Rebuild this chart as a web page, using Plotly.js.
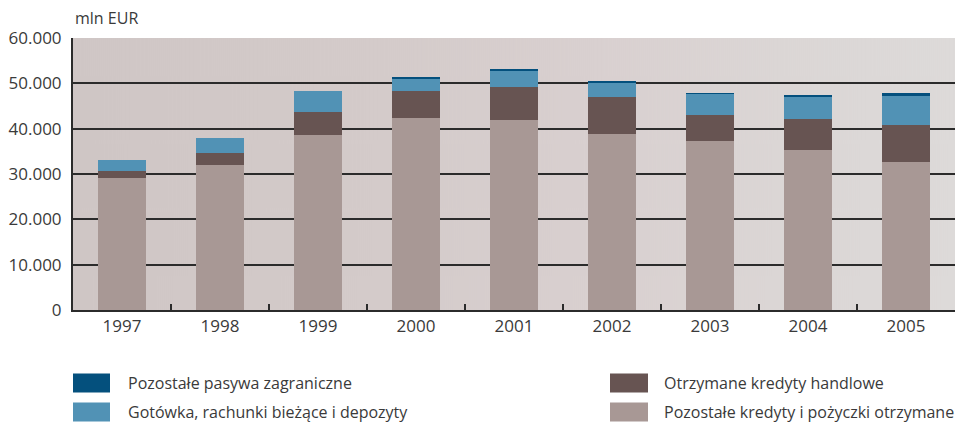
<!DOCTYPE html>
<html><head><meta charset="utf-8">
<script src="https://cdn.plot.ly/plotly-3.0.1.min.js"></script>
<style>html,body{margin:0;padding:0;background:#fff}#chart{width:955px;height:425px}</style>
</head><body><div id="chart"></div>
<script>
// ---- data (mln EUR) ----
const years = ['1997','1998','1999','2000','2001','2002','2003','2004','2005'];
const pozostaleKredyty = [29200, 31900, 38700, 42400, 42000, 38900, 37300, 35300, 32700];
const kredytyHandlowe  = [1500, 2800, 5000, 6000, 7200, 8100, 5800, 6900, 8200];
const gotowka          = [2400, 3200, 4700, 2600, 3600, 3100, 4600, 4800, 6400];
const pozostalePasywa  = [0, 100, 0, 500, 400, 500, 200, 500, 600];
const seriesNames = ['Pozostałe kredyty i pożyczki otrzymane','Otrzymane kredyty handlowe','Gotówka, rachunki bieżące i depozyty','Pozostałe pasywa zagraniczne'];
const yTicks = [0, 10000, 20000, 30000, 40000, 50000, 60000];
const unitLabel = 'mln EUR';

const colors = ['#a89895', '#675452', '#5192b5', '#04507d'];
const FONT = 'Open Sans, Noto Sans, sans-serif';

// background gradient image (plot area)
const cv = document.createElement('canvas');
cv.width = 882; cv.height = 4;
const ctx = cv.getContext('2d');
const g = ctx.createLinearGradient(0, 0, 882, 0);
g.addColorStop(0, '#cfc6c5');
g.addColorStop(0.35, '#d4cbca');
g.addColorStop(0.6, '#d9d0d0');
g.addColorStop(0.8, '#dbd6d5');
g.addColorStop(1, '#dddad9');
ctx.fillStyle = g; ctx.fillRect(0, 0, 882, 4);
const bgURI = cv.toDataURL('image/png');

const series = [pozostaleKredyty, kredytyHandlowe, gotowka, pozostalePasywa];
const traces = series.map((vals, i) => ({
  type: 'bar', x: years, y: vals, name: seriesNames[i],
  marker: {color: colors[i], line: {width: 0}},
  showlegend: false, hoverinfo: 'skip'
}));

// custom legend: big swatches + text
const legendItems = [
  {idx: 3, col: 0, row: 0},
  {idx: 2, col: 0, row: 1},
  {idx: 1, col: 1, row: 0},
  {idx: 0, col: 1, row: 1}
];
const plotTop = 38, plotBottom = 310, plotLeft = 73, plotW = 882;
const py = p => (plotBottom - p) / (plotBottom - plotTop);
const px = p => (p - plotLeft) / plotW;
const colX = [[73, 110, 126], [610, 648, 662]];
const rowY = [383, 412];
const shapes = [], annotations = [];
legendItems.forEach(it => {
  const cx = colX[it.col], cy = rowY[it.row];
  shapes.push({type: 'rect', xref: 'paper', yref: 'paper',
    x0: px(cx[0]), x1: px(cx[1]), y0: py(cy + 9.5), y1: py(cy - 9.5),
    fillcolor: colors[it.idx], line: {width: 0}});
  annotations.push({xref: 'paper', yref: 'paper', x: px(cx[2]), y: py(cy),
    xanchor: 'left', yanchor: 'middle', showarrow: false,
    text: seriesNames[it.idx], font: {family: FONT, size: 16, color: '#3a3a3a'}});
});
annotations.push({xref: 'paper', yref: 'paper', x: 0, y: py(18), xanchor: 'left', yanchor: 'middle',
  showarrow: false, text: unitLabel, font: {family: FONT, size: 16, color: '#3a3a3a'}});

const layout = {
  width: 955, height: 425,
  margin: {l: 73, r: 0, t: 38, b: 115, pad: 0},
  paper_bgcolor: '#ffffff', plot_bgcolor: 'rgba(0,0,0,0)',
  barmode: 'stack', bargap: 0.51,
  separators: ',.',
  font: {family: FONT, color: '#3a3a3a'},
  images: [{source: bgURI, xref: 'paper', yref: 'paper', x: 0, y: 1, sizex: 1, sizey: 1,
    xanchor: 'left', yanchor: 'top', sizing: 'stretch', layer: 'below'}],
  xaxis: {
    type: 'category', showgrid: false, showline: true, linecolor: '#2b2b2b', linewidth: 2,
    mirror: false,
    ticks: 'inside', tickson: 'boundaries', ticklen: 6, tickwidth: 2, tickcolor: '#2b2b2b',
    tickfont: {family: FONT, size: 17, color: '#3a3a3a'}, fixedrange: true
  },
  yaxis: {
    range: [0, 60000], tickvals: yTicks, tickformat: ',d',
    showgrid: true, gridcolor: '#2b2b2b', gridwidth: 2,
    showline: true, linecolor: '#2b2b2b', linewidth: 2,
    zeroline: false, ticks: '', ticklabelstandoff: 6,
    tickfont: {family: FONT, size: 17, color: '#3a3a3a'}, fixedrange: true
  },
  shapes: shapes,
  annotations: annotations,
  showlegend: false
};

Plotly.newPlot('chart', traces, layout, {displayModeBar: false, staticPlot: true});
</script></body></html>
